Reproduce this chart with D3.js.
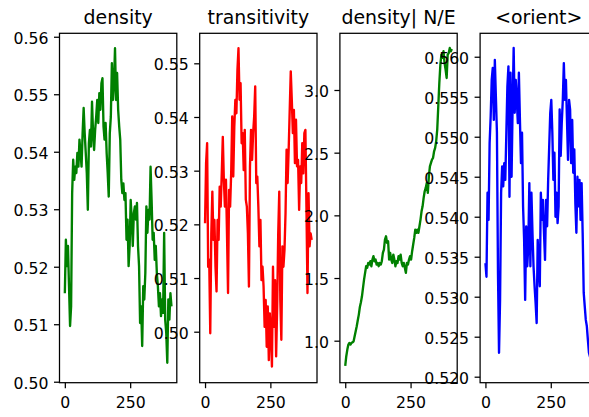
<!DOCTYPE html>
<html>
<head>
<meta charset="utf-8">
<script src="https://cdn.jsdelivr.net/npm/d3@7"></script>
<style>
  html, body { margin: 0; padding: 0; background: #fff; }
  svg { display: block; font-family: "DejaVu Sans", sans-serif; }
</style>
</head>
<body>
<svg id="chart" width="589" height="417"></svg>
<script>
// Sample spacing along the x axis (iteration index)
const xStep = 4;

const titles = ["density", "transitivity", "density| N/E", "<orient>"];
const colors = ["#008000", "#ff0000", "#008000", "#0000ff"];

const densityValues = [
  0.5154, 0.5247, 0.5201, 0.5236, 0.5166, 0.5097, 0.5131, 0.5328, 0.5386, 0.5351,
  0.5374, 0.5363, 0.5398, 0.5374, 0.5421, 0.5398, 0.5374, 0.5432, 0.5476, 0.5432,
  0.5398, 0.5363, 0.5299, 0.5415, 0.5438, 0.5409, 0.5487, 0.5432, 0.5403, 0.5438,
  0.5461, 0.5490, 0.5450, 0.5502, 0.5473, 0.5519, 0.5528, 0.5444, 0.5421, 0.5450,
  0.5398, 0.5363, 0.5322, 0.5432, 0.5461, 0.5554, 0.5490, 0.5519, 0.5580, 0.5490,
  0.5537, 0.5473, 0.5444, 0.5421, 0.5351, 0.5328, 0.5345, 0.5316, 0.5328, 0.5247,
  0.5282, 0.5201, 0.5236, 0.5316, 0.5282, 0.5236, 0.5293, 0.5305, 0.5282, 0.5311,
  0.5236, 0.5201, 0.5102, 0.5131, 0.5062, 0.5166, 0.5143, 0.5189, 0.5305, 0.5259,
  0.5299, 0.5282, 0.5374, 0.5316, 0.5247, 0.5259, 0.5212, 0.5236, 0.5189, 0.5166,
  0.5131, 0.5154, 0.5114, 0.5143, 0.5120, 0.5259, 0.5108, 0.5085, 0.5033, 0.5143,
  0.5108, 0.5154, 0.5131
];

const transitivityValues = [
  0.5202, 0.5314, 0.5351, 0.5121, 0.5134, 0.4997, 0.5183, 0.5261, 0.5171, 0.5208,
  0.5121, 0.5075, 0.5208, 0.5171, 0.5270, 0.5233, 0.5295, 0.5363, 0.5283, 0.5233,
  0.5283, 0.5183, 0.5072, 0.5264, 0.5233, 0.5295, 0.5401, 0.5289, 0.5382, 0.5432,
  0.5407, 0.5488, 0.5528, 0.5432, 0.5463, 0.5351, 0.5370, 0.5301, 0.5376, 0.5246,
  0.5233, 0.5183, 0.5084, 0.5308, 0.5376, 0.5320, 0.5370, 0.5401, 0.5457, 0.5277,
  0.5289, 0.5233, 0.5159, 0.5208, 0.5096, 0.5121, 0.5084, 0.5009, 0.5059, 0.4972,
  0.5047, 0.4947, 0.5034, 0.4997, 0.4935, 0.5121, 0.5009, 0.5096, 0.4954, 0.5047,
  0.5183, 0.5261, 0.5059, 0.4985, 0.5159, 0.5121, 0.5152, 0.5221, 0.5339, 0.5277,
  0.5339, 0.5413, 0.5485, 0.5432, 0.5370, 0.5413, 0.5314, 0.5395, 0.5308, 0.5320,
  0.5227, 0.5308, 0.5277, 0.5351, 0.5295, 0.5370, 0.5376, 0.5233, 0.5072, 0.5258,
  0.5159, 0.5183, 0.5171
];

const densityNEValues = [
  0.800, 0.876, 0.929, 0.969, 0.982, 0.969, 0.982, 0.987, 0.995, 1.035,
  1.075, 1.115, 1.163, 1.208, 1.269, 1.307, 1.354, 1.421, 1.487, 1.541,
  1.594, 1.581, 1.620, 1.607, 1.634, 1.594, 1.647, 1.674, 1.634, 1.647,
  1.607, 1.620, 1.594, 1.620, 1.607, 1.634, 1.700, 1.727, 1.807, 1.833,
  1.780, 1.793, 1.647, 1.700, 1.647, 1.620, 1.687, 1.647, 1.594, 1.634,
  1.620, 1.674, 1.647, 1.687, 1.620, 1.594, 1.620, 1.581, 1.541, 1.620,
  1.607, 1.647, 1.674, 1.647, 1.714, 1.767, 1.820, 1.886, 1.860, 1.886,
  1.860, 1.913, 1.966, 2.032, 2.072, 2.139, 2.192, 2.219, 2.258, 2.179,
  2.312, 2.391, 2.418, 2.445, 2.458, 2.511, 2.538, 2.591, 2.684, 2.870,
  3.056, 3.202, 3.282, 3.256, 3.309, 3.216, 3.162, 3.096, 3.282, 3.295,
  3.335, 3.309, 3.327
];

const orientValues = [
  0.5342, 0.5325, 0.5430, 0.5396, 0.5492, 0.5525, 0.5571, 0.5586, 0.5521, 0.5596,
  0.5550, 0.5505, 0.5330, 0.5230, 0.5296, 0.5430, 0.5463, 0.5438, 0.5467, 0.5446,
  0.5505, 0.5563, 0.5588, 0.5425, 0.5580, 0.5450, 0.5538, 0.5611, 0.5530, 0.5571,
  0.5546, 0.5517, 0.5580, 0.5521, 0.5467, 0.5505, 0.5413, 0.5371, 0.5296, 0.5388,
  0.5338, 0.5363, 0.5442, 0.5338, 0.5430, 0.5380, 0.5338, 0.5313, 0.5292, 0.5267,
  0.5371, 0.5338, 0.5313, 0.5430, 0.5396, 0.5421, 0.5380, 0.5346, 0.5421, 0.5388,
  0.5446, 0.5488, 0.5530, 0.5546, 0.5505, 0.5446, 0.5480, 0.5400, 0.5430, 0.5392,
  0.5413, 0.5534, 0.5476, 0.5517, 0.5546, 0.5592, 0.5546, 0.5571, 0.5521, 0.5471,
  0.5546, 0.5534, 0.5467, 0.5521, 0.5455, 0.5484, 0.5417, 0.5380, 0.5450, 0.5413,
  0.5446, 0.5396, 0.5442, 0.5380, 0.5305, 0.5288, 0.5271, 0.5263, 0.5246, 0.5230,
  0.5225, 0.5221, 0.5212
];

const xTicks = [0, 250];
const yTicksDensity = [0.50, 0.51, 0.52, 0.53, 0.54, 0.55, 0.56];
const yTicksTransitivity = [0.50, 0.51, 0.52, 0.53, 0.54, 0.55];
const yTicksDensityNE = [1.0, 1.5, 2.0, 2.5, 3.0];
const yTicksOrient = [0.520, 0.525, 0.530, 0.535, 0.540, 0.545, 0.550, 0.555, 0.560];

// y-axis view limits of each panel
const yDomains = [
  [0.49983, 0.5606],
  [0.4905, 0.55559],
  [0.6649, 3.4523],
  [0.51925, 0.56293]
];

const panels = [
  { title: titles[0], color: colors[0], values: densityValues, ticks: yTicksDensity, fmt: d3.format(".2f"), domain: yDomains[0] },
  { title: titles[1], color: colors[1], values: transitivityValues, ticks: yTicksTransitivity, fmt: d3.format(".2f"), domain: yDomains[1] },
  { title: titles[2], color: colors[2], values: densityNEValues, ticks: yTicksDensityNE, fmt: d3.format(".1f"), domain: yDomains[2] },
  { title: titles[3], color: colors[3], values: orientValues, ticks: yTicksOrient, fmt: d3.format(".3f"), domain: yDomains[3] }
];

// layout
const axTop = 33.3, axBottom = 382.7, axWidth = 117.3;
const axLeft0 = 59.5, axGap = 140.2;
const tickLen = 5.5, tickPad = 5.5;
const tickFont = 15.7, titleFont = 18.9;

const svg = d3.select("#chart");

panels.forEach((p, k) => {
  const left = axLeft0 + k * axGap;
  const right = left + axWidth;
  const n = p.values.length;
  const xMax = (n - 1) * xStep;
  const xMargin = 0.05 * xMax;

  const x = d3.scaleLinear().domain([-xMargin, xMax + xMargin]).range([left, right]);
  const y = d3.scaleLinear().domain(p.domain).range([axBottom, axTop]);

  const g = svg.append("g").attr("class", "panel");

  // axes background
  g.append("rect")
    .attr("x", left).attr("y", axTop)
    .attr("width", axWidth).attr("height", axBottom - axTop)
    .attr("fill", "#fff");

  const clipId = "clip" + k;
  g.append("clipPath").attr("id", clipId)
    .append("rect")
    .attr("x", left).attr("y", axTop)
    .attr("width", axWidth).attr("height", axBottom - axTop);

  const line = d3.line()
    .x((d, i) => x(i * xStep))
    .y(d => y(d));

  g.append("path")
    .datum(p.values)
    .attr("clip-path", `url(#${clipId})`)
    .attr("d", line)
    .attr("fill", "none")
    .attr("stroke", p.color)
    .attr("stroke-width", 2.36)
    .attr("stroke-linejoin", "round");

  // spines
  g.append("rect")
    .attr("x", left).attr("y", axTop)
    .attr("width", axWidth).attr("height", axBottom - axTop)
    .attr("fill", "none")
    .attr("stroke", "#000")
    .attr("stroke-width", 1.26);

  // y axis
  const yAxis = d3.axisLeft(y)
    .tickValues(p.ticks)
    .tickFormat(p.fmt)
    .tickSizeInner(tickLen)
    .tickSizeOuter(0)
    .tickPadding(tickPad);
  const ya = g.append("g").attr("transform", `translate(${left},0)`).call(yAxis);
  ya.select(".domain").remove();
  ya.selectAll(".tick line").attr("stroke", "#000").attr("stroke-width", 1.26);
  ya.selectAll(".tick text")
    .attr("fill", "#000")
    .attr("font-size", tickFont)
    .attr("font-family", "DejaVu Sans")
    .attr("dy", "0.41em");

  // x axis
  const xAxis = d3.axisBottom(x)
    .tickValues(xTicks)
    .tickFormat(d3.format("d"))
    .tickSizeInner(tickLen)
    .tickSizeOuter(0)
    .tickPadding(tickPad);
  const xa = g.append("g").attr("transform", `translate(0,${axBottom})`).call(xAxis);
  xa.select(".domain").remove();
  xa.selectAll(".tick line").attr("stroke", "#000").attr("stroke-width", 1.26);
  xa.selectAll(".tick text")
    .attr("fill", "#000")
    .attr("font-size", tickFont)
    .attr("font-family", "DejaVu Sans")
    .attr("dy", "0.9em");

  // title
  g.append("text")
    .attr("x", (left + right) / 2)
    .attr("y", 24)
    .attr("text-anchor", "middle")
    .attr("font-size", titleFont)
    .attr("fill", "#000")
    .text(p.title);
});
</script>
</body>
</html>
